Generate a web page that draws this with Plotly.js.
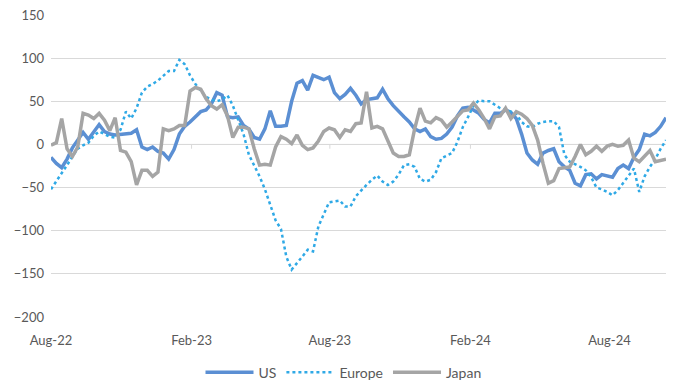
<!DOCTYPE html>
<html>
<head>
<meta charset="utf-8">
<script src="https://cdn.plot.ly/plotly-3.0.1.min.js"></script>
<style>
  html, body { margin: 0; padding: 0; background: #ffffff; }
  #chart { width: 687px; height: 383px; }
</style>
</head>
<body>
<div id="chart"></div>
<script>
// Weekly observations starting 2022-08-01
const startDate = "2022-08-01";
const seriesNames = ["US", "Europe", "Japan"];

const usValues = [
  -15, -22, -27, -17, -4, 5, 14, 6, 15, 23,
  15, 12, 11, 12, 12, 13, 17, -3, -6, -3,
  -8, -10, -17, -6, 12, 21, 26, 32, 38, 40,
  47, 60, 57, 32, 31, 32, 22, 18, 8, 6,
  18, 39, 21, 21, 22, 50, 71, 74, 63, 80,
  78, 75, 78, 60, 53, 58, 65, 57, 47, 52,
  53, 54, 64, 53, 45, 38, 32, 26, 18, 15,
  18, 9, 6, 7, 12, 20, 33, 42, 43, 40,
  36, 29, 25, 36, 36, 40, 37, 30, 12, -10,
  -18, -23, -10, -7, -5, -20, -26, -30, -45, -48,
  -35, -34, -40, -35, -37, -38, -28, -24, -28, -15,
  -6, 12, 10, 14, 21, 31
];

const europeValues = [
  -52, -43, -33, -24, -14, -5, -1, 2, 10, 15,
  12, 9, 8, 17, 38, 30, 42, 60, 67, 70,
  74, 80, 85, 85, 98, 93, 80, 70, 62, 55,
  52, 50, 52, 57, 45, 29, 12, -12, -24, -37,
  -52, -70, -88, -98, -130, -145, -138, -130, -122, -124,
  -95, -82, -67, -66, -65, -72, -72, -60, -53, -47,
  -41, -36, -43, -47, -43, -35, -24, -23, -26, -40,
  -43, -41, -32, -16, -13, -10, 3, 20, 32, 45,
  51, 50, 50, 46, 42, 40, 38, 35, 26, 21,
  20, 24, 26, 27, 27, 20, -12, -20, -23, -26,
  -30, -38, -50, -52, -55, -59, -53, -45, -37, -28,
  -55, -37, -26, -17, -5, 5
];

const japanValues = [
  -1, 2, 30, -5, -14, -3, 36, 34, 30, 36,
  28, 16, 31, -7, -9, -20, -47, -30, -30, -37,
  -32, 18, 16, 18, 22, 22, 62, 66, 64, 53,
  45, 41, 46, 33, 8, 20, 20, 18, -5, -24,
  -23, -24, -3, 9, 6, 1, 11, -1, -6, -4,
  4, 15, 19, 17, 8, 17, 15, 24, 25, 61,
  19, 21, 18, 5, -10, -14, -14, -12, 18, 42,
  27, 25, 31, 28, 20, 26, 32, 39, 40, 48,
  40, 30, 18, 32, 33, 42, 30, 38, 35, 30,
  22, 5, -22, -45, -42, -28, -27, -26, -14, 0,
  -12, -8, -2, -8, -2, 0, -2, -1, 5, -16,
  -20, -14, -7, -20, -19, -17
];

const tickDates = ["2022-08-01", "2023-02-01", "2023-08-01", "2024-02-01", "2024-08-01"];
const tickLabels = ["Aug-22", "Feb-23", "Aug-23", "Feb-24", "Aug-24"];
const yTicks = [-200, -150, -100, -50, 0, 50, 100, 150];

function weeklyDates(start, n) {
  const out = [];
  const d0 = new Date(start + "T00:00:00Z");
  for (let i = 0; i < n; i++) {
    const d = new Date(d0.getTime() + i * 7 * 86400000);
    out.push(d.toISOString().slice(0, 10));
  }
  return out;
}
const dates = weeklyDates(startDate, usValues.length);

const traces = [
  { x: dates, y: usValues, name: seriesNames[0], type: "scatter", mode: "lines",
    line: { color: "#5b8fd3", width: 3.5 } },
  { x: dates, y: europeValues, name: seriesNames[1], type: "scatter", mode: "lines",
    line: { color: "#2fa9e6", width: 2.5, dash: "dot" } },
  { x: dates, y: japanValues, name: seriesNames[2], type: "scatter", mode: "lines",
    line: { color: "#a5a5a5", width: 3.5 } }
];

// small tick marks on the zero axis line (Excel style)
const shapes = tickDates.slice(1).map(d => ({
  type: "line", xref: "x", yref: "y", x0: d, x1: d, y0: 0, y1: -5,
  line: { color: "#d9d9d9", width: 1 }, layer: "below"
}));
shapes.push({ type: "line", xref: "paper", yref: "y", x0: 0, x1: 1, y0: 0, y1: 0,
  line: { color: "#d9d9d9", width: 1 }, layer: "below" });

const layout = {
  width: 687, height: 383,
  margin: { l: 51, r: 21, t: 15, b: 66, autoexpand: false },
  paper_bgcolor: "#ffffff", plot_bgcolor: "#ffffff",
  font: { family: "Lato, 'Open Sans', sans-serif", size: 13, color: "#595959" },
  showlegend: true,
  legend: { orientation: "h", x: 0.5, xref: "container", xanchor: "center",
    y: 0.027, yref: "container", yanchor: "middle", itemwidth: 48,
    font: { size: 14, color: "#595959" }, traceorder: "normal" },
  xaxis: {
    type: "date",
    range: [dates[0], dates[dates.length - 1]],
    tickvals: tickDates, ticktext: tickLabels,
    showgrid: false, zeroline: false, showline: false,
    ticks: "", ticklabelstandoff: 14,
    tickfont: { size: 13, color: "#595959" }
  },
  yaxis: {
    range: [-200, 150], tickvals: yTicks,
    showgrid: true, gridcolor: "#d9d9d9", gridwidth: 1,
    zeroline: false, showline: false, ticks: "",
    ticklabelstandoff: 6,
    tickfont: { size: 13, color: "#595959" }
  },
  shapes: shapes
};

Plotly.newPlot("chart", traces, layout, { displayModeBar: false, staticPlot: true });
</script>
</body>
</html>
